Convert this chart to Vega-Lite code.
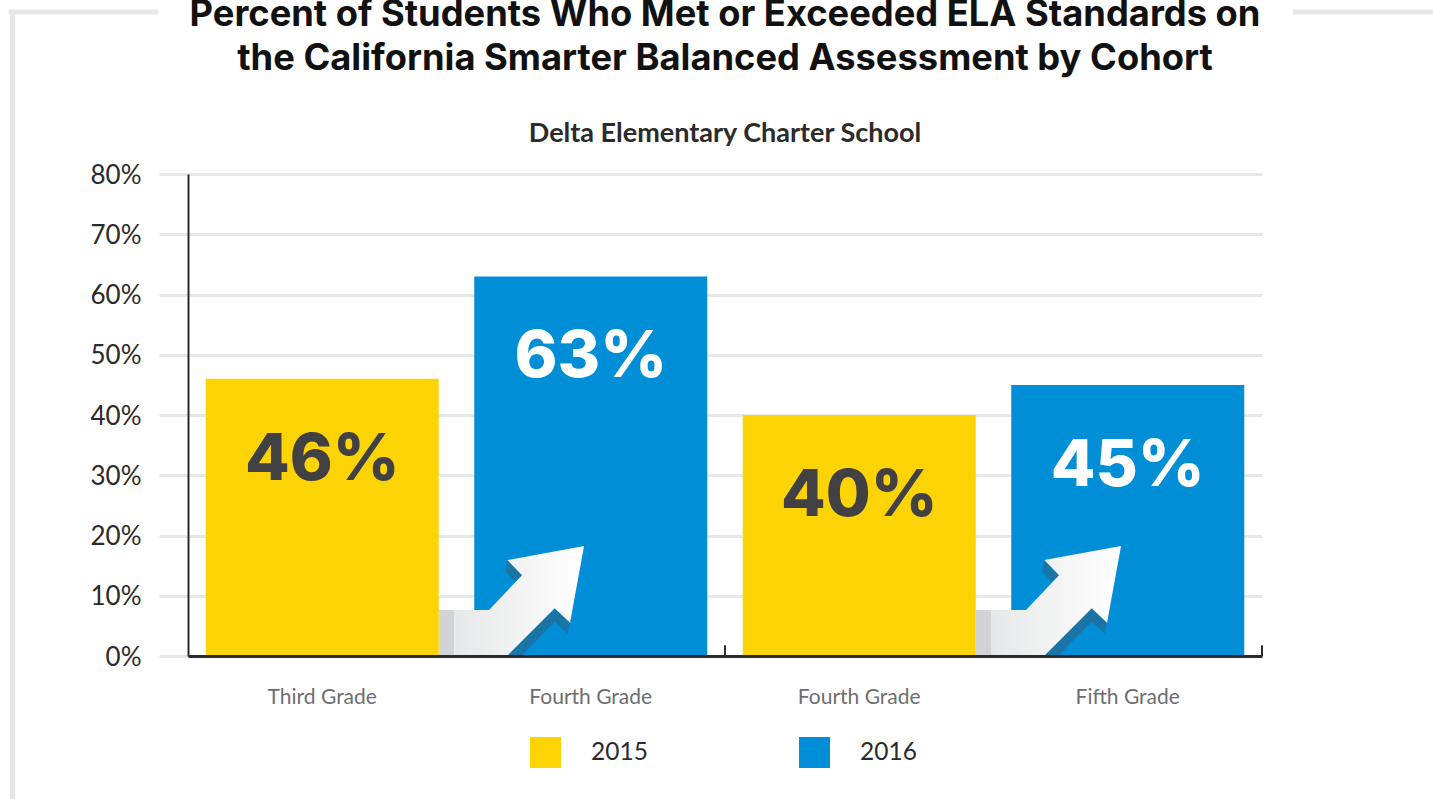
{
  "$schema": "https://vega.github.io/schema/vega-lite/v6.json",
  "width": 1074,
  "height": 482,
  "autosize": {"type": "none"},
  "padding": {"left": 188, "top": 174, "right": 171, "bottom": 143},
  "background": "#ffffff",
  "title": {
    "text": ["Percent of Students Who Met or Exceeded ELA Standards on", "the California Smarter Balanced Assessment by Cohort"],
    "subtitle": "Delta Elementary Charter School",
    "anchor": "middle",
    "frame": "group",
    "font": "Inter",
    "fontSize": 36.3,
    "fontWeight": 700,
    "color": "#111111",
    "lineHeight": 44,
    "subtitleFont": "Lato",
    "subtitleFontSize": 27,
    "subtitleFontWeight": 700,
    "subtitleColor": "#2b2b2b",
    "subtitlePadding": 43,
    "offset": -139
  },
  "datasets": {
    "bars": [
      {"slot": "Third Grade|2015", "grade": "Third Grade", "year": "2015", "pct": 46, "label": "46%"},
      {"slot": "Fourth Grade|2016", "grade": "Fourth Grade", "year": "2016", "pct": 63, "label": "63%"},
      {"slot": "Fourth Grade|2015", "grade": "Fourth Grade", "year": "2015", "pct": 40, "label": "40%"},
      {"slot": "Fifth Grade|2016", "grade": "Fifth Grade", "year": "2016", "pct": 45, "label": "45%"}
    ],
    "frame": [
      {"a": -0.6536, "b": -0.6536, "y": 107.2, "y2": -24},
      {"a": -0.6685, "b": -0.1117, "y": 106.9, "y2": 106.9},
      {"a": 4.115, "b": 4.64, "y": 106.9, "y2": 106.9}
    ],
    "ticks": [
      {"a": 2, "y": 0, "y2": 1.8},
      {"a": 4, "y": 0, "y2": 1.8}
    ],
    "arrows": [
      {"a": 0.935, "y": 0},
      {"a": 2.935, "y": 0}
    ]
  },
  "layer": [
    {
      "data": {"name": "frame"},
      "mark": {"type": "rule", "color": "#e6e7e8", "strokeWidth": 5, "clip": false},
      "encoding": {
        "x": {"field": "a", "type": "quantitative", "scale": {"domain": [0, 4], "nice": false}, "axis": null},
        "x2": {"field": "b"},
        "y": {
          "field": "y",
          "type": "quantitative",
          "scale": {"domain": [0, 80], "nice": false},
          "axis": {
            "title": null,
            "values": [0, 10, 20, 30, 40, 50, 60, 70, 80],
            "labelExpr": "datum.value + '%'",
            "labelFont": "Lato",
            "labelFontSize": 26,
            "labelColor": "#2b2b2b",
            "labelPadding": 18,
            "labelOffset": 1,
            "tickSize": 29,
            "tickWidth": 3,
            "tickColor": "#e6e7e8",
            "grid": true,
            "gridColor": "#e6e7e8",
            "gridWidth": 3,
            "domainColor": "#2b2b2b",
            "domainWidth": 2,
            "zindex": 0
          }
        },
        "y2": {"field": "y2"}
      }
    },
    {
      "data": {"name": "bars"},
      "mark": {"type": "bar", "width": 233},
      "encoding": {
        "x": {
          "field": "slot",
          "type": "nominal",
          "sort": null,
          "scale": {"paddingInner": 0.132, "paddingOuter": 0.066},
          "axis": {
            "title": null,
            "labelExpr": "split(datum.label, '|')[0]",
            "labelAngle": 0,
            "labelFont": "Lato",
            "labelFontSize": 21,
            "labelColor": "#6d6e71",
            "labelPadding": 41,
            "labelBaseline": "middle",
            "ticks": false,
            "domainColor": "#2b2b2b",
            "domainWidth": 3,
            "zindex": 1
          }
        },
        "y": {"field": "pct", "type": "quantitative", "scale": {"domain": [0, 80], "nice": false}},
        "color": {
          "field": "year",
          "type": "nominal",
          "scale": {"domain": ["2015", "2016"], "range": ["#fcd406", "#008fd6"]},
          "legend": {
            "orient": "none",
            "legendX": 342,
            "legendY": 563,
            "direction": "horizontal",
            "title": null,
            "padding": 0,
            "symbolType": "square",
            "symbolSize": 961,
            "symbolStrokeWidth": 0,
            "labelFont": "Lato",
            "labelFontSize": 24.5,
            "labelColor": "#2b2b2b",
            "labelOffset": 30,
            "columnPadding": 151,
            "symbolOpacity": 1
          }
        }
      }
    },
    {
      "data": {"name": "bars"},
      "mark": {"type": "text", "font": "Inter", "fontSize": 65, "fontWeight": 800, "dy": 81, "baseline": "middle", "align": "center"},
      "encoding": {
        "x": {"field": "slot", "type": "nominal", "sort": null, "scale": {"paddingInner": 0.132, "paddingOuter": 0.066}, "axis": null},
        "y": {"field": "pct", "type": "quantitative", "scale": {"domain": [0, 80], "nice": false}},
        "text": {"field": "label", "type": "nominal"},
        "fill": {"condition": {"test": "datum.year === '2015'", "value": "#414042"}, "value": "#ffffff"}
      }
    },
    {
      "data": {"name": "arrows"},
      "mark": {"type": "point", "filled": true, "opacity": 1, "size": 40000, "color": "#1a75a6",
        "shape": "M0.683 -0.96 L0.663 -0.847 L0.753 -0.743 L0.83 -0.807 Z M1.31 -0.333 L1.287 -0.22 L1.157 -0.343 L0.82 0 L0.68 0 L1.157 -0.477 Z"},
      "encoding": {
        "x": {"field": "a", "type": "quantitative", "scale": {"domain": [0, 4], "nice": false}, "axis": null},
        "y": {"field": "y", "type": "quantitative", "scale": {"domain": [0, 80], "nice": false}}
      }
    },
    {
      "data": {"name": "arrows"},
      "mark": {"type": "point", "filled": true, "opacity": 1, "size": 40000, "color": "#d1d3d4",
        "shape": "M0 -0.46 L0.15 -0.46 L0.15 0 L0 0 Z"},
      "encoding": {
        "x": {"field": "a", "type": "quantitative", "scale": {"domain": [0, 4], "nice": false}, "axis": null},
        "y": {"field": "y", "type": "quantitative", "scale": {"domain": [0, 80], "nice": false}}
      }
    },
    {
      "data": {"name": "arrows"},
      "mark": {"type": "point", "filled": true, "opacity": 1, "size": 40000, "strokeWidth": 0,
        "fill": {"gradient": "linear", "x1": 0, "y1": 0, "x2": 1, "y2": 0, "stops": [{"offset": 0, "color": "#e6e7e8"}, {"offset": 1, "color": "#ffffff"}]},
        "shape": "M0.15 -0.46 L0.5 -0.46 L0.83 -0.807 L0.683 -0.96 L1.45 -1.1 L1.31 -0.333 L1.157 -0.477 L0.68 0 L0.15 0 Z"},
      "encoding": {
        "x": {"field": "a", "type": "quantitative", "scale": {"domain": [0, 4], "nice": false}, "axis": null},
        "y": {"field": "y", "type": "quantitative", "scale": {"domain": [0, 80], "nice": false}}
      }
    },
    {
      "data": {"name": "ticks"},
      "mark": {"type": "rule", "color": "#2b2b2b", "strokeWidth": 2},
      "encoding": {
        "x": {"field": "a", "type": "quantitative", "scale": {"domain": [0, 4], "nice": false}, "axis": null},
        "y": {"field": "y", "type": "quantitative", "scale": {"domain": [0, 80], "nice": false}},
        "y2": {"field": "y2"}
      }
    }
  ],
  "resolve": {"scale": {"x": "independent"}, "axis": {"x": "independent"}},
  "config": {"view": {"stroke": null}}
}
